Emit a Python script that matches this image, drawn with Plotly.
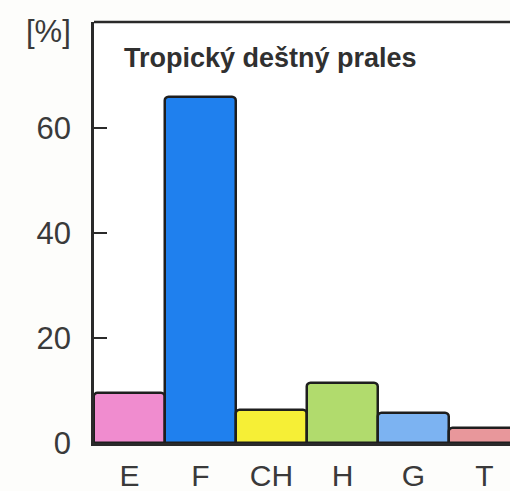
import plotly.graph_objects as go

# Share of life forms in a tropical rain forest
categories = ["E", "F", "CH", "H", "G", "T"]
shares = [9.5, 66, 6.3, 11.4, 5.7, 2.8]
bar_colors = ["#f08ccf", "#1f80ee", "#f6ef36", "#b1db6d", "#7cb3f2", "#e8979b"]
y_ticks = [0, 20, 40, 60]

fig = go.Figure(
    go.Bar(
        x=categories,
        y=shares,
        marker=dict(
            color=bar_colors,
            line=dict(color="#1e1e1e", width=2.5),
            cornerradius=4,
        ),
        width=1.0,
        hoverinfo="x+y",
    )
)

fig.update_layout(
    width=510,
    height=491,
    margin=dict(l=94, r=0, t=22, b=48),
    paper_bgcolor="#fdfdfb",
    plot_bgcolor="#ffffff",
    showlegend=False,
    bargap=0,
    font=dict(family="Liberation Sans, Arial, sans-serif", color="#3a3a3a"),
)

fig.update_xaxes(
    range=[-0.5, 5.36],
    showgrid=False,
    zeroline=False,
    showline=True,
    linecolor="#2a2a2a",
    linewidth=2.5,
    ticks="",
    tickfont=dict(size=30, color="#3a3a3a"),
    ticklabelstandoff=4,
    automargin=True,
    fixedrange=True,
)

fig.update_yaxes(
    range=[0, 80.2],
    tickvals=y_ticks,
    showgrid=False,
    zeroline=False,
    showline=True,
    linecolor="#2a2a2a",
    linewidth=2.5,
    ticks="inside",
    ticklen=13,
    tickwidth=2,
    tickcolor="#2a2a2a",
    tickfont=dict(size=31, color="#3a3a3a"),
    ticklabelstandoff=14,
    automargin=False,
    fixedrange=True,
)

# top edge of the frame (the frame runs off to the right)
fig.add_shape(
    type="line", xref="paper", yref="paper",
    x0=0, x1=1, y0=1, y1=1,
    line=dict(color="#2a2a2a", width=2.5),
)

fig.add_annotation(
    text="Tropický deštný prales",
    xref="paper", yref="paper",
    x=0.068, y=0.915,
    xanchor="left", yanchor="middle",
    showarrow=False,
    font=dict(size=27, color="#303030", family="Liberation Sans, Arial, sans-serif", weight="bold"),
)

fig.add_annotation(
    text="[%]",
    xref="paper", yref="paper",
    x=-0.05, y=1.0,
    xanchor="right", yanchor="top",
    showarrow=False,
    font=dict(size=31, color="#3a3a3a"),
    yshift=10,
)

fig.write_html("out.html")
